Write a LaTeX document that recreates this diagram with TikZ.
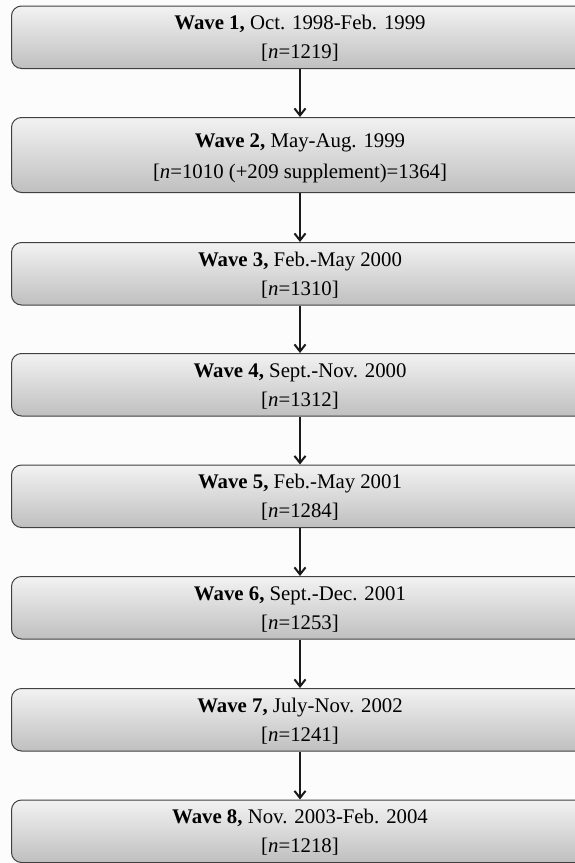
\documentclass[tikz,border=0pt]{standalone}
\usepackage{fontspec}
\setmainfont{Liberation Serif}
\usetikzlibrary{arrows.meta}
\begin{document}
\begin{tikzpicture}[x=1pt,y=-1pt,
  wavebox/.style={draw=black!75, line width=1pt, rounded corners=10pt,
    top color=black!5, bottom color=black!25, minimum width=609pt,
    minimum height=#1, inner sep=0pt, anchor=north west},
  wavebox/.default=62.5pt,
  wtxt/.style={font=\fontsize{20.8}{25}\selectfont, anchor=base, inner sep=0pt},
  warr/.style={-{Straight Barb[length=7pt,width=11pt,line width=2pt]}, line width=2.2pt, black!90}]
\useasboundingbox (0,0) rectangle (575,863);
\clip (0,0) rectangle (575,863);
\fill[black!1] (0,0) rectangle (575,863);
% boxes
\node[wavebox] (b1) at (11,5.5) {};
\node[wavebox=75pt] (b2) at (11,117) {};
\node[wavebox] (b3) at (11,242) {};
\node[wavebox] (b4) at (11,353) {};
\node[wavebox] (b5) at (11,464.5) {};
\node[wavebox] (b6) at (11,576) {};
\node[wavebox] (b7) at (11,688) {};
\node[wavebox] (b8) at (11,799.5) {};
% texts
\node[wtxt] (t1a) at (300,29.5) {\textbf{Wave 1,} Oct. 1998-Feb. 1999};
\node[wtxt] (t1b) at (300,58.5) {[\textit{n}=1219]};
\node[wtxt] (t2a) at (300,147) {\textbf{Wave 2,} May-Aug. 1999};
\node[wtxt] (t2b) at (300,178) {[\textit{n}=1010 (+209 supplement)=1364]};
\node[wtxt] (t3a) at (300,266) {\textbf{Wave 3,} Feb.-May 2000};
\node[wtxt] (t3b) at (300,295) {[\textit{n}=1310]};
\node[wtxt] (t4a) at (300,377) {\textbf{Wave 4,} Sept.-Nov. 2000};
\node[wtxt] (t4b) at (300,406) {[\textit{n}=1312]};
\node[wtxt] (t5a) at (300,488.5) {\textbf{Wave 5,} Feb.-May 2001};
\node[wtxt] (t5b) at (300,517.5) {[\textit{n}=1284]};
\node[wtxt] (t6a) at (300,600) {\textbf{Wave 6,} Sept.-Dec. 2001};
\node[wtxt] (t6b) at (300,629) {[\textit{n}=1253]};
\node[wtxt] (t7a) at (300,712) {\textbf{Wave 7,} July-Nov. 2002};
\node[wtxt] (t7b) at (300,741) {[\textit{n}=1241]};
\node[wtxt] (t8a) at (300,823.5) {\textbf{Wave 8,} Nov. 2003-Feb. 2004};
\node[wtxt] (t8b) at (300,852.5) {[\textit{n}=1218]};
% arrows
\draw[warr] (b1.south -| t1b) -- (b2.north -| t1b);
\draw[warr] (b2.south -| t2b) -- (b3.north -| t2b);
\draw[warr] (b3.south -| t3b) -- (b4.north -| t3b);
\draw[warr] (b4.south -| t4b) -- (b5.north -| t4b);
\draw[warr] (b5.south -| t5b) -- (b6.north -| t5b);
\draw[warr] (b6.south -| t6b) -- (b7.north -| t6b);
\draw[warr] (b7.south -| t7b) -- (b8.north -| t7b);
\end{tikzpicture}
\end{document}
